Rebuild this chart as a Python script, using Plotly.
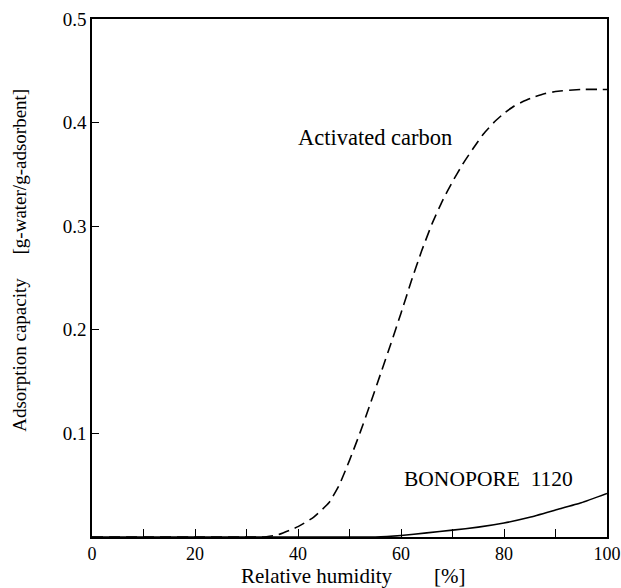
import plotly.graph_objects as go

# Relative humidity [%]
carbon_x = [0, 10, 20, 30, 33, 36, 40, 43, 46, 48, 50, 52, 54, 56, 58, 60, 62, 64, 66, 68, 70, 72, 74, 76, 78, 80, 82, 84, 86, 88, 90, 95, 100]
carbon_y = [0.0, 0.0, 0.0, 0.0, 0.0, 0.002, 0.01, 0.019, 0.033, 0.05, 0.074, 0.1, 0.128, 0.157, 0.186, 0.216, 0.247, 0.276, 0.302, 0.324, 0.343, 0.36, 0.375, 0.389, 0.4, 0.409, 0.416, 0.421, 0.425, 0.428, 0.43, 0.432, 0.432]

bono_x = [0, 10, 20, 30, 40, 50, 55, 60, 65, 70, 75, 80, 85, 90, 95, 100]
bono_y = [0.0, 0.0, 0.0, 0.0, 0.0, 0.0, 0.0, 0.0015, 0.004, 0.0066, 0.0095, 0.0135, 0.019, 0.026, 0.033, 0.042]

x_ticks = [0, 20, 40, 60, 80, 100]
x_ticklabels = ["0", "20", "40", "60", "80", "100"]
x_minor_ticks = [10, 30, 50, 70, 90]
y_ticks = [0.1, 0.2, 0.3, 0.4, 0.5]
y_ticklabels = ["0.1", "0.2", "0.3", "0.4", "0.5"]

FONT = "Liberation Serif, Times New Roman, Times, serif"

fig = go.Figure()
fig.add_trace(go.Scatter(x=carbon_x, y=carbon_y, mode="lines",
                         line=dict(color="black", width=1.6, dash="11px,6px", shape="spline", smoothing=0.4),
                         showlegend=False, hoverinfo="skip"))
fig.add_trace(go.Scatter(x=bono_x, y=bono_y, mode="lines",
                         line=dict(color="black", width=1.6, shape="spline", smoothing=0.4),
                         showlegend=False, hoverinfo="skip"))

fig.add_annotation(x=55, y=0.386, text="Activated carbon", showarrow=False,
                   font=dict(family=FONT, size=22.5, color="black"), xanchor="center", yanchor="middle")
fig.add_annotation(x=77, y=0.056, text="BONOPORE\u00a0\u00a01120", showarrow=False,
                   font=dict(family=FONT, size=21.5, color="black"), xanchor="center", yanchor="middle")

fig.add_annotation(xref="paper", yref="paper", x=0.508, y=-0.075,
                   text="Relative humidity\u00a0\u00a0\u00a0\u00a0\u00a0\u00a0\u00a0\u00a0[%]", showarrow=False,
                   font=dict(family=FONT, size=21, color="black"), xanchor="center", yanchor="middle")
fig.add_annotation(xref="paper", yref="paper", x=-0.14, y=0.535,
                   text="Adsorption capacity\u00a0\u00a0\u00a0\u00a0\u00a0[g-water/g-adsorbent]", textangle=-90,
                   showarrow=False, font=dict(family=FONT, size=19, color="black"),
                   xanchor="center", yanchor="middle")

fig.update_layout(
    width=621, height=588,
    margin=dict(l=92, r=14, t=19, b=51),
    paper_bgcolor="white", plot_bgcolor="white",
    font=dict(family=FONT, size=19, color="black"),
    xaxis=dict(range=[0, 100], tickvals=x_ticks, ticktext=x_ticklabels, ticks="inside", ticklen=8,
               tickwidth=1.3, tickcolor="black", automargin=False, ticklabeloverflow="allow",
               minor=dict(tickvals=x_minor_ticks, ticks="inside", ticklen=8, tickwidth=1.3, tickcolor="black"),
               showline=True, linecolor="black", linewidth=1.6, mirror=True, showgrid=False, zeroline=False,
               tickfont=dict(family=FONT, size=18, color="black")),
    yaxis=dict(range=[0, 0.5], tickvals=y_ticks, ticktext=y_ticklabels, ticks="inside", ticklen=7,
               tickwidth=1.3, tickcolor="black", automargin=False, ticklabeloverflow="allow",
               showline=True, linecolor="black", linewidth=1.6, mirror=True, showgrid=False, zeroline=False,
               tickfont=dict(family=FONT, size=19, color="black")),
)

fig.write_html("out.html",
               config={"displayModeBar": False},
               post_script="document.body.style.margin='0';document.body.style.overflow='hidden';")
